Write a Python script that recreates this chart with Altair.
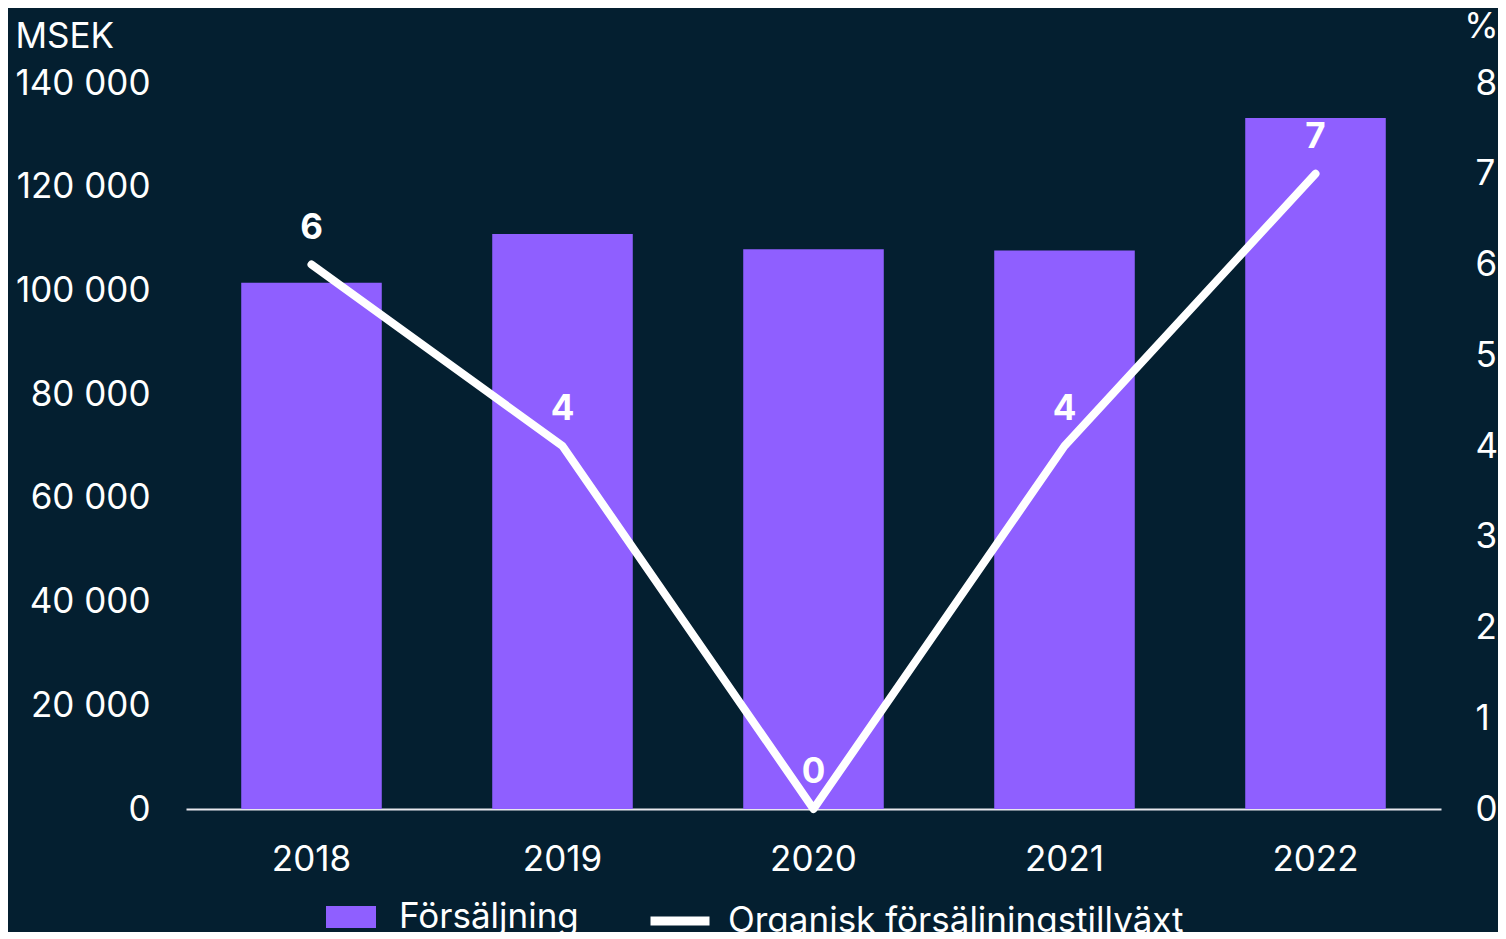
import altair as alt
import pandas as pd

years = ["2018", "2019", "2020", "2021", "2022"]
sales = [101467, 110899, 107954, 107700, 133237]
growth = [6, 4, 0, 4, 7]
sales_name = "Försäljning"
growth_name = "Organisk försäljningstillväxt"

df = pd.DataFrame({
    "year": years,
    "sales": sales,
    "growth": growth,
    "s1": [sales_name] * len(years),
    "s2": [growth_name] * len(years),
})

BG = "#041f30"
PURPLE = "#8f5fff"
WHITE = "#ffffff"
FONT = "Inter"
FS = 35

x_enc = alt.X(
    "year:N",
    sort=years,
    scale=alt.Scale(paddingInner=0.44, paddingOuter=0.22),
    axis=alt.Axis(
        title=None, labelAngle=0, ticks=False, domain=True, domainColor="#e8e8ee",
        domainWidth=2, labelPadding=33, labelFontSize=FS, labelColor=WHITE, labelFont=FONT,
    ),
)

bars = alt.Chart(df).mark_bar(stroke=None).encode(
    x=x_enc,
    y=alt.Y(
        "sales:Q",
        scale=alt.Scale(domain=[0, 140000], nice=False),
        axis=alt.Axis(
            orient="left", values=list(range(0, 140001, 20000)),
            labelExpr="datum.value == 0 ? '0' : format(datum.value / 1000, 'd') + ' 000'",
            title="MSEK", titleAngle=0, titleAlign="left", titleBaseline="alphabetic",
            titleX=-171, titleY=-36, titleFontSize=FS, titleFontWeight="normal",
            titleColor=WHITE, titleFont=FONT,
            labelPadding=36, labelFontSize=FS, labelColor=WHITE, labelFont=FONT,
            ticks=False, domain=False, grid=False,
        ),
    ),
    fill=alt.Fill(
        "s1:N",
        scale=alt.Scale(domain=[sales_name], range=[PURPLE]),
        legend=alt.Legend(
            orient="none", legendX=140, legendY=809, title=None,
            symbolType="M-1,-0.44H1V0.44H-1Z", symbolSize=2500, symbolStrokeWidth=0,
            labelFontSize=FS, labelColor=WHITE, labelFont=FONT, labelOffset=23, padding=0,
            labelLimit=800,
        ),
    ),
)

y2_enc = alt.Y(
    "growth:Q",
    scale=alt.Scale(domain=[0, 8], nice=False),
    axis=alt.Axis(
        orient="right", values=list(range(0, 9)),
        title="%", titleAngle=0, titleAlign="right", titleBaseline="alphabetic",
        titleX=57, titleY=-46, titleFontSize=FS, titleFontWeight="normal",
        titleColor=WHITE, titleFont=FONT,
        labelPadding=34, labelFontSize=FS, labelColor=WHITE, labelFont=FONT,
        ticks=False, domain=False, grid=False,
    ),
)

line = alt.Chart(df).mark_line(strokeWidth=8, strokeCap="round", strokeJoin="round").encode(
    x=x_enc,
    y=y2_enc,
    stroke=alt.Stroke(
        "s2:N",
        scale=alt.Scale(domain=[growth_name], range=[WHITE]),
        legend=alt.Legend(
            orient="none", legendX=460, legendY=804, title=None,
            symbolType="stroke", symbolSize=3481, symbolStrokeWidth=9,
            labelFontSize=FS, labelColor=WHITE, labelFont=FONT, labelOffset=14, padding=0,
            labelLimit=800,
        ),
    ),
)

labels = alt.Chart(df).mark_text(
    fontSize=FS, fontWeight="bold", color=WHITE, font=FONT, baseline="alphabetic", dy=-26
).encode(
    x=x_enc,
    y=y2_enc,
    text=alt.Text("growth:Q"),
)

chart = alt.layer(bars, alt.layer(line, labels)).resolve_scale(
    y="independent", fill="independent", stroke="independent"
).properties(
    width=1255, height=726,
    padding={"left": 178, "top": 75, "right": 57, "bottom": 123},
    autosize=alt.AutoSizeParams(type="none"),
    background=BG,
).configure_view(stroke=None)

chart.save("out.html", embed_options={"renderer": "svg", "actions": False})
